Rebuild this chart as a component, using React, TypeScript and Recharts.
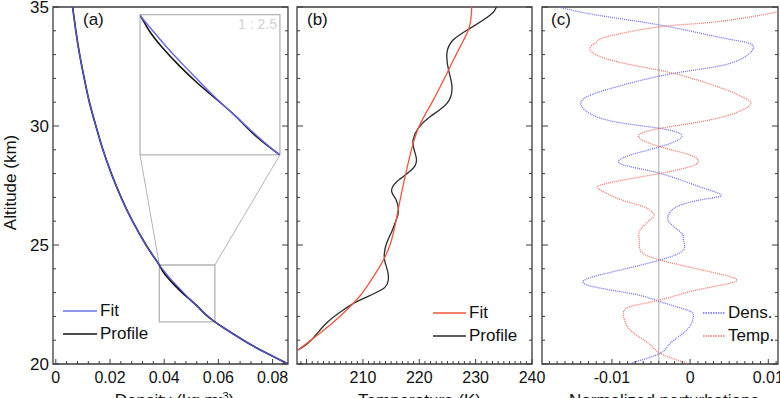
import { LineChart, Line, XAxis, YAxis, ReferenceArea, ReferenceLine, Legend } from 'recharts';

const FONT = '"Liberation Sans", Arial, Helvetica, sans-serif';
const FRAME = '#3c3c3c';
const BOX = '#b4b4b4';
const W = 780;
const H = 398;

const COLORS: Record<string, string> = {
  Fit: '#5656e4',
  Profile: '#111',
  FitT: '#f2553c',
  ProfileT: '#2a2a2a',
  'Dens.': '#6e6ef2',
  'Temp.': '#f27468',
};

// (a) density profile, kg m^-3
const densAlt = [20, 20.5, 21, 21.5, 21.77, 22.1, 22.4, 22.7, 23, 23.3, 23.6, 23.9, 24.16, 24.5, 25, 26, 27, 28, 29, 30, 31, 32, 33, 34, 35];
const densFit = [0.0857, 0.077, 0.0692, 0.0622, 0.0587, 0.0553, 0.0525, 0.0497, 0.0471, 0.0446, 0.0422, 0.04, 0.0382, 0.0362, 0.0333, 0.0283, 0.0241, 0.0205, 0.0174, 0.0148, 0.0124, 0.0105, 0.0088, 0.0074, 0.0062];
const densProfile = [0.0857, 0.077, 0.0692, 0.0622, 0.0587, 0.0551, 0.0525, 0.0496, 0.0466, 0.0439, 0.0415, 0.0395, 0.0382, 0.0362, 0.0333, 0.0283, 0.0241, 0.0205, 0.0174, 0.0148, 0.0124, 0.0105, 0.0088, 0.0074, 0.0062];

// zoom window shown in the inset (1 : 2.5)
const zoomDens = [0.0382, 0.0587];
const zoomAlt = [21.77, 24.16];
const insetDens = [0.0311, 0.0827];
const insetAlt = [28.79, 34.68];

// (b) temperature, K
const tempFitAlt = [20.59, 21.3, 22, 22.7, 23.25, 24.1, 25, 26.05, 26.9, 28, 29, 30, 31.1, 32.5, 33.4, 34.17, 35];
const tempFit = [198.5, 202.4, 205.9, 208.9, 210.7, 213, 214.8, 215.9, 216.6, 217.6, 218.6, 220, 222.5, 225.5, 227.4, 228.9, 229.3];
const tempProfileAlt = [20.59, 21, 21.71, 22.27, 22.62, 22.94, 23.22, 23.53, 23.88, 24.3, 24.65, 25.07, 25.56, 26.05, 26.4, 26.89, 27.24, 27.66, 28.15, 28.57, 28.99, 29.41, 29.9, 30.39, 30.95, 31.65, 32.35, 33.05, 33.61, 34.1, 34.66, 35];
const tempProfile = [198.5, 200.8, 203.5, 206.5, 208.9, 211.8, 213.9, 214.5, 214.4, 213.9, 213.8, 214.2, 215.1, 215.9, 216.3, 215.9, 215.1, 216, 218.6, 219.5, 219.1, 218.9, 219.8, 221.9, 224.9, 225.8, 225.2, 224.9, 226, 229, 232.6, 233.7];

// (c) normalized perturbations
const densPertAlt = [20.03, 20.45, 20.87, 21.43, 21.99, 22.27, 22.62, 22.97, 23.39, 23.88, 24.37, 24.79, 25.21, 25.49, 25.91, 26.26, 26.61, 26.89, 27.05, 27.25, 27.59, 28.01, 28.29, 28.5, 28.78, 29.13, 29.55, 29.9, 30.25, 30.81, 31.23, 31.65, 32.21, 32.63, 33.26, 33.54, 33.75, 34.24, 34.66, 35];
const densPert = [-0.00766, -0.00383, -0.00255, -0.00042, 0.00042, -0.00042, -0.00383, -0.00766, -0.01363, -0.0098, -0.00383, -0.00086, -0.00086, -0.00106, -0.00255, -0.00277, -0.0017, 0.0012, 0.0039, 0.003, 0, -0.00383, -0.00766, -0.00916, -0.00766, -0.00383, -0.00106, -0.00383, -0.01064, -0.01383, -0.01319, -0.00936, -0.00213, 0.00511, 0.00808, 0.00681, 0.00341, -0.00383, -0.01192, -0.01682];
const tempPertAlt = [20.03, 20.45, 20.87, 21.43, 22.06, 22.41, 22.69, 23.11, 23.46, 23.81, 24.37, 24.79, 25.21, 25.63, 26.12, 26.33, 26.61, 26.89, 27.31, 27.59, 28.01, 28.29, 28.5, 28.78, 29.13, 29.55, 29.9, 30.32, 30.88, 31.2, 31.51, 32.21, 32.7, 33.19, 33.54, 33.75, 34.17, 34.38, 34.8, 35];
const tempPert = [-0.00042, -0.00383, -0.00533, -0.00766, -0.00852, -0.00766, -0.00383, 0.00086, 0.00575, 0.00341, -0.00383, -0.00639, -0.00648, -0.00639, -0.00489, -0.00469, -0.00596, -0.00872, -0.01149, -0.01064, -0.00383, 0, 0.00106, 0, -0.00383, -0.0066, -0.00383, 0.00341, 0.00766, 0.0068, 0.0047, -0.00213, -0.00936, -0.01277, -0.01192, -0.01064, -0.00383, 0.00341, 0.01128, 0.0135];
const pertCentre = -0.004;

const rows = (alts: number[], vals: number[]) => alts.map((alt, i) => ({ alt, v: vals[i] }));

const range = (from: number, to: number, step: number) => {
  const out: number[] = [];
  for (let k = Math.round(from / step); k <= Math.round(to / step); k++) out.push(Number((k * step).toFixed(4)));
  return out;
};

const altTicks = range(20, 35, 1);
const densTicks = range(0, 0.084, 0.004);
const tempTicks = range(199, 240, 1);
const pertTicks = range(-0.018, 0.011, 0.001);

const fmt = (v: number) => String(Number(v.toFixed(3)));

const xTick = (step: number, every: number, minLabel: number) => (props: any) => {
  const { x, y, payload } = props;
  const v = payload.value as number;
  const major = Math.round(v / step) % every === 0;
  return (
    <g>
      <line x1={x} x2={x} y1={y} y2={y - (major ? 5 : 3)} stroke={FRAME} strokeWidth={1} />
      {major && v >= minLabel && (
        <text x={x} y={y + 19} textAnchor="middle" fontSize={16} fontFamily={FONT} fill="#111">
          {fmt(v)}
        </text>
      )}
    </g>
  );
};

const yTick = (plotW: number, labels: boolean) => (props: any) => {
  const { x, y, payload } = props;
  const v = payload.value as number;
  const major = v % 5 === 0;
  const len = major ? 6 : 3;
  return (
    <g>
      <line x1={x} x2={x + len} y1={y} y2={y} stroke={FRAME} strokeWidth={1} />
      <line x1={x + plotW} x2={x + plotW - len} y1={y} y2={y} stroke={FRAME} strokeWidth={1} />
      {labels && major && (
        <text x={x - 4} y={y} dy="0.36em" textAnchor="end" fontSize={17} fontFamily={FONT} fill="#111">
          {v}
        </text>
      )}
    </g>
  );
};

const axisTitle = (children: any, dx: number) => (props: any) => {
  const vb = props.viewBox || { x: 0, y: 0, width: 0, height: 0 };
  return (
    <text x={vb.x + vb.width / 2 + dx} y={vb.y + 42} textAnchor="middle" fontSize={17} fontFamily={FONT} fill="#111">
      {children}
    </text>
  );
};

const altTitle = (props: any) => {
  const vb = props.viewBox || { x: 0, y: 0, width: 0, height: 0 };
  const cx = vb.x + 16;
  const cy = vb.y + vb.height / 2 - 3;
  return (
    <text x={cx} y={cy} transform={`rotate(-90 ${cx} ${cy})`} textAnchor="middle" fontSize={17} fontFamily={FONT} fill="#111">
      Altitude (km)
    </text>
  );
};

const panelTag = (tag: string, dx: number) => (props: any) => {
  const vb = props.viewBox || { x: 0, y: 0 };
  return (
    <text x={vb.x + dx} y={vb.y + 18} fontSize={17} fontFamily={FONT} fill="#111">
      {tag}
    </text>
  );
};

const scaleTag = (props: any) => {
  const vb = props.viewBox || { x: 0, y: 0, width: 0 };
  return (
    <text x={vb.x + vb.width - 3} y={vb.y + 14} textAnchor="end" fontSize={14} fontFamily={FONT} fill="#d2d2d2">
      1 : 2.5
    </text>
  );
};

// legend rows in a fixed order
const LegendBox = ({ payload, order, colors, len, dotted }: any) => {
  const items = order
    .map((name: string) => (payload || []).find((p: any) => p.value === name))
    .filter(Boolean);
  return (
    <div style={{ fontFamily: FONT, fontSize: 17, color: '#111' }}>
      {items.map((p: any) => (
        <div key={p.value} style={{ display: 'flex', alignItems: 'center', height: 22.5 }}>
          <svg width={len} height={4} style={{ display: 'block', flex: 'none' }}>
            <line x1={0} x2={len} y1={2} y2={2} stroke={colors[p.value]} strokeWidth={1.5}
              strokeDasharray={dotted ? '1.5 1' : undefined} />
          </svg>
          <span style={{ marginLeft: 3, lineHeight: '22px' }}>{p.value}</span>
        </div>
      ))}
    </div>
  );
};

const layer: any = { position: 'absolute', left: 0, top: 0 };

export default function App() {
  const dA: [number, number] = [-0.00103, 0.08568];
  const dB: [number, number] = [198.3, 240];
  const dC: [number, number] = [-0.01894, 0.01124];
  return (
    <div style={{ position: 'absolute', left: 0, top: 0, width: W, height: H, background: '#fff', overflow: 'hidden' }}>
      {/* (a) density */}
      <div style={layer}>
        <LineChart layout="vertical" width={W} height={H} margin={{ top: 7, right: 492, bottom: 0, left: 0 }}>
          <XAxis type="number" domain={dA} allowDataOverflow ticks={densTicks} interval={0} tickSize={0} tickMargin={0}
            axisLine={false} tickLine={false} tick={xTick(0.004, 5, 0)} height={34}
            label={{ content: axisTitle(<>Density (kg m<tspan dy={-6} fontSize={11}>-3</tspan><tspan dy={6}>)</tspan></>, 4) }} />
          <YAxis type="number" dataKey="alt" domain={[20, 35]} reversed allowDataOverflow ticks={altTicks} interval={0}
            tickSize={0} tickMargin={0} axisLine={false} tickLine={false} tick={yTick(235, true)} width={53}
            label={{ content: altTitle }} />
          <ReferenceArea x1={dA[0]} x2={dA[1]} y1={20} y2={35} fill="none" stroke={FRAME} strokeWidth={1.3} ifOverflow="visible"
            label={{ content: panelTag('(a)', 30) }} />
          <ReferenceArea x1={insetDens[0]} x2={insetDens[1]} y1={insetAlt[0]} y2={insetAlt[1]} fill="none" stroke={BOX} strokeWidth={1.3}
            ifOverflow="visible" label={{ content: scaleTag }} />
          <ReferenceArea x1={zoomDens[0]} x2={zoomDens[1]} y1={zoomAlt[0]} y2={zoomAlt[1]} fill="none" stroke={BOX} strokeWidth={1.3} ifOverflow="visible" />
          <ReferenceLine segment={[{ x: zoomDens[0], y: zoomAlt[1] }, { x: insetDens[0], y: insetAlt[0] }]} stroke={BOX} strokeWidth={1} ifOverflow="visible" />
          <ReferenceLine segment={[{ x: zoomDens[1], y: zoomAlt[1] }, { x: insetDens[1], y: insetAlt[0] }]} stroke={BOX} strokeWidth={1} ifOverflow="visible" />
          <Line data={rows(densAlt, densProfile)} dataKey="v" name="Profile" type="natural" stroke={COLORS.Profile} strokeWidth={1.7} dot={false} isAnimationActive={false} />
          <Line data={rows(densAlt, densFit)} dataKey="v" name="Fit" type="natural" stroke={COLORS.Fit} strokeWidth={1.2} dot={false} isAnimationActive={false} />
          <Legend layout="vertical" align="center" verticalAlign="middle" wrapperStyle={{ left: 63, top: 300, width: 'auto' }}
            content={(p: any) => <LegendBox payload={p.payload} order={['Fit', 'Profile']} colors={{ Fit: '#7070ec', Profile: '#111' }} len={34} />} />
        </LineChart>
      </div>

      {/* (b) temperature */}
      <div style={layer}>
        <LineChart layout="vertical" width={W} height={H} margin={{ top: 7, right: 248, bottom: 0, left: 287 }}>
          <XAxis type="number" domain={dB} allowDataOverflow ticks={tempTicks} interval={0} tickSize={0} tickMargin={0}
            axisLine={false} tickLine={false} tick={xTick(1, 10, 205)} height={34}
            label={{ content: axisTitle('Temperature (K)', 5) }} />
          <YAxis type="number" dataKey="alt" domain={[20, 35]} reversed allowDataOverflow ticks={altTicks} interval={0}
            tickSize={0} tickMargin={0} axisLine={false} tickLine={false} tick={yTick(235, false)} width={10} />
          <ReferenceArea x1={dB[0]} x2={dB[1]} y1={20} y2={35} fill="none" stroke={FRAME} strokeWidth={1.3} ifOverflow="visible"
            label={{ content: panelTag('(b)', 10) }} />
          <Line data={rows(tempProfileAlt, tempProfile)} dataKey="v" name="Profile" type="natural" stroke={COLORS.ProfileT} strokeWidth={1.3} dot={false} isAnimationActive={false} />
          <Line data={rows(tempFitAlt, tempFit)} dataKey="v" name="Fit" type="natural" stroke={COLORS.FitT} strokeWidth={1.3} dot={false} isAnimationActive={false} />
          <Legend layout="vertical" align="center" verticalAlign="middle" wrapperStyle={{ left: 433, top: 302, width: 'auto' }}
            content={(p: any) => <LegendBox payload={p.payload} order={['Fit', 'Profile']} colors={{ Fit: COLORS.FitT, Profile: COLORS.ProfileT }} len={33} />} />
        </LineChart>
      </div>

      {/* (c) normalized perturbations */}
      <div style={layer}>
        <LineChart layout="vertical" width={W} height={H} margin={{ top: 7, right: 2, bottom: 0, left: 532 }}>
          <XAxis type="number" domain={dC} allowDataOverflow ticks={pertTicks} interval={0} tickSize={0} tickMargin={0}
            axisLine={false} tickLine={false} tick={xTick(0.001, 10, -1)} height={34}
            label={{ content: axisTitle('Normalized perturbations', 4) }} />
          <YAxis type="number" dataKey="alt" domain={[20, 35]} reversed allowDataOverflow ticks={altTicks} interval={0}
            tickSize={0} tickMargin={0} axisLine={false} tickLine={false} tick={yTick(236, false)} width={10} />
          <ReferenceLine x={pertCentre} stroke="#a8a8a8" strokeWidth={1} />
          <ReferenceArea x1={dC[0]} x2={dC[1]} y1={20} y2={35} fill="none" stroke={FRAME} strokeWidth={1.3} ifOverflow="visible"
            label={{ content: panelTag('(c)', 9) }} />
          <Line data={rows(densPertAlt, densPert)} dataKey="v" name="Dens." type="natural" stroke={COLORS['Dens.']} strokeWidth={1.3} strokeDasharray="1 1" dot={false} isAnimationActive={false} />
          <Line data={rows(tempPertAlt, tempPert)} dataKey="v" name="Temp." type="natural" stroke={COLORS['Temp.']} strokeWidth={1.3} strokeDasharray="1 1" dot={false} isAnimationActive={false} />
          <Legend layout="vertical" align="center" verticalAlign="middle" wrapperStyle={{ left: 703, top: 302, width: 'auto' }}
            content={(p: any) => <LegendBox payload={p.payload} order={['Dens.', 'Temp.']} colors={COLORS} len={22} dotted />} />
        </LineChart>
      </div>

      {/* inset of (a): magnified zoom window */}
      <div style={{ position: 'absolute', left: 140, top: 14.7 }}>
        <LineChart layout="vertical" width={140} height={140} margin={{ top: 0, right: 0, bottom: 0, left: 0 }}>
          <XAxis type="number" domain={zoomDens} allowDataOverflow hide />
          <YAxis type="number" dataKey="alt" domain={zoomAlt} reversed allowDataOverflow hide />
          <Line data={rows(densAlt, densProfile)} dataKey="v" type="natural" stroke="#111" strokeWidth={1.5} dot={false} isAnimationActive={false} />
          <Line data={rows(densAlt, densFit)} dataKey="v" type="natural" stroke="#6464ea" strokeWidth={1.4} dot={false} isAnimationActive={false} />
        </LineChart>
      </div>
    </div>
  );
}
